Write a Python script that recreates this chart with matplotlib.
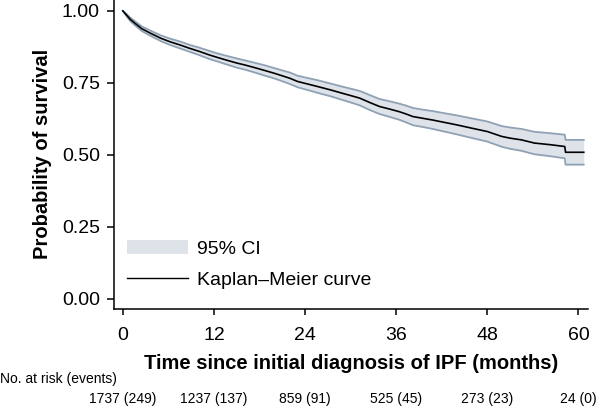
import matplotlib
matplotlib.use("Agg")
import matplotlib.pyplot as plt
from matplotlib.patches import Patch
from matplotlib.lines import Line2D
from matplotlib.transforms import blended_transform_factory

plt.rcParams['font.family'] = ['Liberation Sans', 'DejaVu Sans']

# Kaplan-Meier estimate (months, survival, 95% CI)
months = [0, 0.5, 1, 1.6, 2.5, 3.6, 5, 6.2, 7.5, 8.8, 10, 11.4, 12.5, 13.8, 15, 16.1,
          17.5, 18.7, 20, 21.3, 22, 23, 24.5, 25.7, 27.3, 28.9, 30, 31.2, 32.5, 33.8,
          35, 36.4, 37.3, 38.2, 39.5, 40.8, 42.5, 44, 45.9, 48, 49.9, 51, 52.5, 54.2,
          56.4, 58.2, 58.3, 60.7]
survival = [1.000, 0.985, 0.970, 0.957, 0.938, 0.923, 0.905, 0.893, 0.882, 0.870, 0.860,
            0.847, 0.838, 0.828, 0.819, 0.812, 0.802, 0.793, 0.783, 0.772, 0.766, 0.755,
            0.745, 0.737, 0.726, 0.714, 0.706, 0.697, 0.682, 0.668, 0.660, 0.650, 0.642,
            0.633, 0.627, 0.621, 0.612, 0.604, 0.593, 0.581, 0.564, 0.558, 0.552, 0.541,
            0.535, 0.529, 0.509, 0.509]
ci_lower = [1.000, 0.981, 0.964, 0.950, 0.930, 0.914, 0.895, 0.882, 0.870, 0.858, 0.847,
            0.833, 0.824, 0.813, 0.803, 0.796, 0.785, 0.775, 0.765, 0.753, 0.746, 0.735,
            0.724, 0.715, 0.704, 0.691, 0.682, 0.672, 0.656, 0.642, 0.633, 0.622, 0.613,
            0.603, 0.597, 0.590, 0.580, 0.571, 0.559, 0.546, 0.528, 0.521, 0.514, 0.502,
            0.495, 0.488, 0.466, 0.466]
ci_upper = [1.000, 0.989, 0.976, 0.964, 0.946, 0.932, 0.915, 0.904, 0.894, 0.882, 0.873,
            0.861, 0.852, 0.843, 0.835, 0.828, 0.819, 0.811, 0.801, 0.791, 0.786, 0.775,
            0.766, 0.759, 0.748, 0.737, 0.730, 0.722, 0.708, 0.694, 0.687, 0.678, 0.671,
            0.663, 0.657, 0.652, 0.644, 0.637, 0.627, 0.616, 0.600, 0.595, 0.590, 0.580,
            0.575, 0.570, 0.552, 0.552]

# risk table
risk_months = [0, 12, 24, 36, 48, 60]
n_at_risk = [1737, 1237, 859, 525, 273, 24]
n_events = [249, 137, 91, 45, 23, 0]

x_ticks = [0, 12, 24, 36, 48, 60]
y_ticks = [0.00, 0.25, 0.50, 0.75, 1.00]

fill_col = '#dee3ea'
edge_col = '#8fa1b4'

fig = plt.figure(figsize=(6.02, 4.08), dpi=100)
ax = fig.add_axes([0.189, 0.243, 0.787, 0.757])

ax.fill_between(months, ci_lower, ci_upper, color=fill_col, lw=0)
ax.plot(months, ci_lower, color=edge_col, lw=1.3)
ax.plot(months, ci_upper, color=edge_col, lw=1.3)
ax.plot(months, survival, color='black', lw=1.2)

ax.set_xlim(-1.2, 61.2)
ax.set_ylim(-0.035, 1.038)
ax.set_xticks(x_ticks)
ax.set_yticks(y_ticks)
ax.set_yticklabels([f'{v:.2f}' for v in y_ticks])
ax.tick_params(axis='both', direction='out', width=1.1, labelsize=14)
ax.tick_params(axis='x', length=4, pad=9)
ax.tick_params(axis='y', length=5, pad=5)
for s in ['top', 'right']:
    ax.spines[s].set_visible(False)
for s in ['left', 'bottom']:
    ax.spines[s].set_linewidth(1.1)

ax.set_xlabel('Time since initial diagnosis of IPF (months)', fontsize=14.5,
              fontweight='bold', labelpad=7)
ax.set_ylabel('Probability of survival', fontsize=14.5, fontweight='bold', labelpad=7)

handles = [Patch(facecolor=fill_col, edgecolor='none'),
           Line2D([0], [0], color='black', lw=1.0)]
ax.legend(handles, ['95% CI', 'Kaplan\u2013Meier curve'], loc='upper left',
          bbox_to_anchor=(-0.008, 0.28), frameon=False, fontsize=14,
          handlelength=3.1, handleheight=0.78, labelspacing=0.65, handletextpad=0.45)

# numbers at risk under the axis
fig.text(0.0, (408 - 379) / 408, 'No. at risk (events)', fontsize=10, va='center', ha='left')
trans = blended_transform_factory(ax.transData, fig.transFigure)
for m, n, e in zip(risk_months, n_at_risk, n_events):
    ax.text(m, (408 - 399) / 408, f'{n} ({e})', transform=trans, fontsize=10,
            ha='center', va='center', clip_on=False)

fig.savefig('out.png', dpi=100)
